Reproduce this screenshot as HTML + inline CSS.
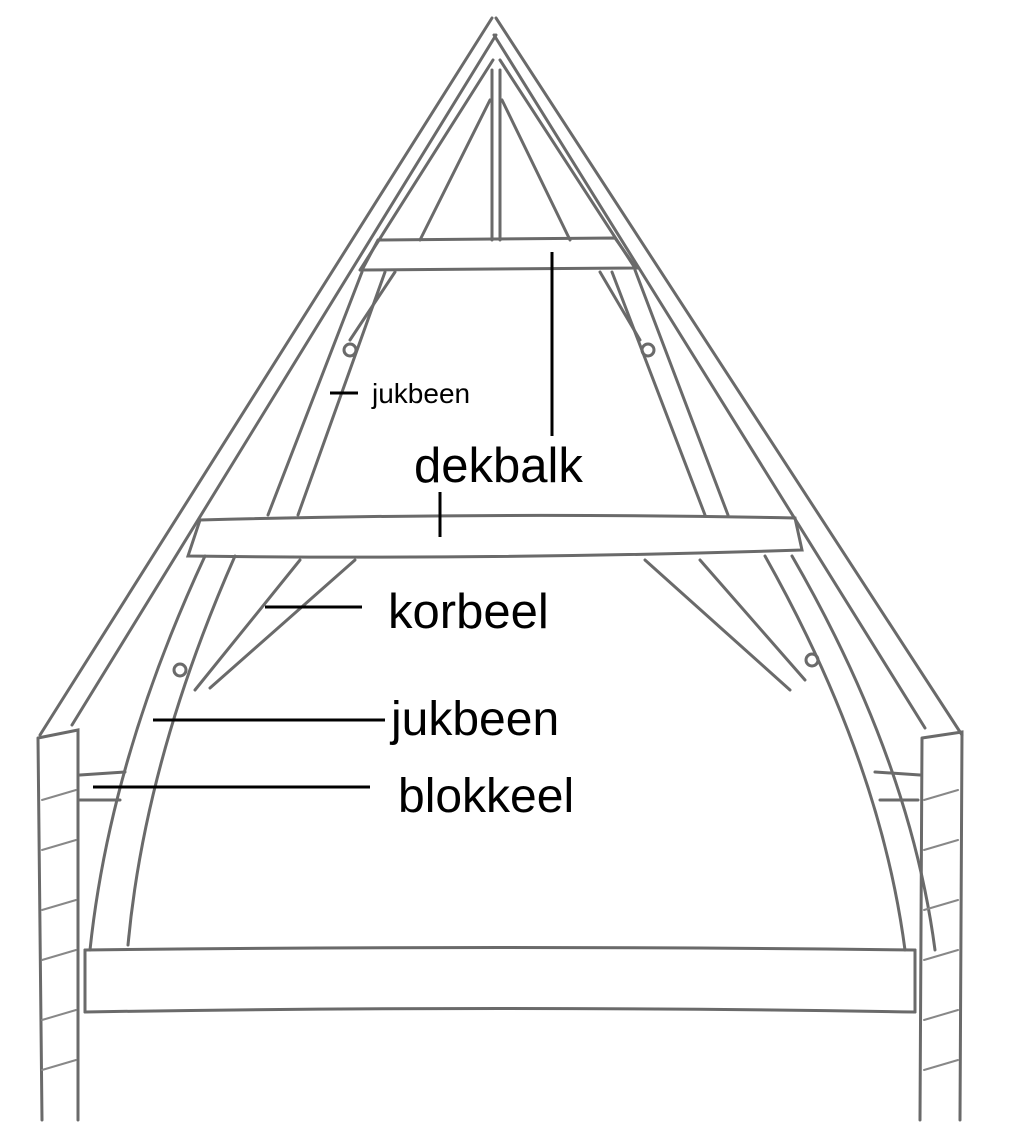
<!DOCTYPE html>
<html><head><meta charset="utf-8"><style>
html,body{margin:0;padding:0;background:#fff;}
svg{display:block;}
text{font-family:"Liberation Sans",sans-serif;fill:#000;}
</style></head><body>
<svg width="1028" height="1131" viewBox="0 0 1028 1131">
<g fill="none" stroke="#6a6a6a" stroke-width="3" stroke-linecap="round">
<path d="M492 18 L40 735"/>
<path d="M496 35 L72 725"/>
<path d="M496 18 L962 735"/>
<path d="M494 35 L925 728"/>
<path d="M493 60 L360 270"/>
<path d="M500 60 L635 268"/>
<path d="M490 100 L420 240"/>
<path d="M502 100 L570 240"/>
<path d="M492 70 L492 240"/><path d="M500 70 L500 240"/>
<path d="M378 240 L615 238 L636 268 L362 270 Z"/>
<path d="M362 272 L268 515"/><path d="M385 272 L298 515"/>
<path d="M612 272 L705 515"/><path d="M635 270 L728 515"/>
<path d="M395 272 L350 340"/><path d="M600 272 L640 340"/>
<circle cx="350" cy="350" r="6"/><circle cx="648" cy="350" r="6"/>
<path d="M200 520 Q500 512 795 518 L802 550 Q500 560 188 556 Z"/>
<path d="M205 556 Q110 760 90 950"/>
<path d="M235 556 Q145 760 128 945"/>
<path d="M765 556 Q880 760 905 950"/>
<path d="M792 556 Q910 760 935 950"/>
<circle cx="180" cy="670" r="6"/><circle cx="812" cy="660" r="6"/>
<path d="M300 560 L195 690"/><path d="M355 560 L210 688"/>
<path d="M645 560 L790 690"/><path d="M700 560 L805 680"/>
<path d="M80 775 L125 772"/><path d="M80 800 L120 800"/>
<path d="M875 772 L920 775"/><path d="M880 800 L918 800"/>
<path d="M85 950 Q500 945 915 950"/>
<path d="M85 1012 Q500 1005 915 1012"/>
<path d="M85 950 L85 1012"/><path d="M915 950 L915 1012"/>
<path d="M38 738 L78 730 L78 1120 M38 738 L42 1120"/>
<path d="M922 738 L962 732 L960 1120 M922 738 L920 1120"/>
<g stroke-width="2" stroke="#888">
<path d="M42 800 L76 790 M42 850 L76 840 M42 910 L76 900 M42 960 L76 950 M42 1020 L76 1010 M42 1070 L76 1060"/>
<path d="M924 800 L958 790 M924 850 L958 840 M924 910 L958 900 M924 960 L958 950 M924 1020 L958 1010 M924 1070 L958 1060"/>
</g>
</g>
<g stroke="#000" stroke-width="3">
<line x1="552" y1="252" x2="552" y2="436"/>
<line x1="440" y1="492" x2="440" y2="537"/>
<line x1="265" y1="607" x2="362" y2="607"/>
<line x1="153" y1="720" x2="385" y2="720"/>
<line x1="93" y1="787" x2="370" y2="787"/>
<line x1="330" y1="393" x2="358" y2="393"/>
</g>
<text x="372" y="403" font-size="28">jukbeen</text>
<text x="414" y="482" font-size="49">dekbalk</text>
<text x="388" y="628" font-size="49">korbeel</text>
<text x="391" y="735" font-size="48">jukbeen</text>
<text x="398" y="812" font-size="48">blokkeel</text>
</svg>
</body></html>
